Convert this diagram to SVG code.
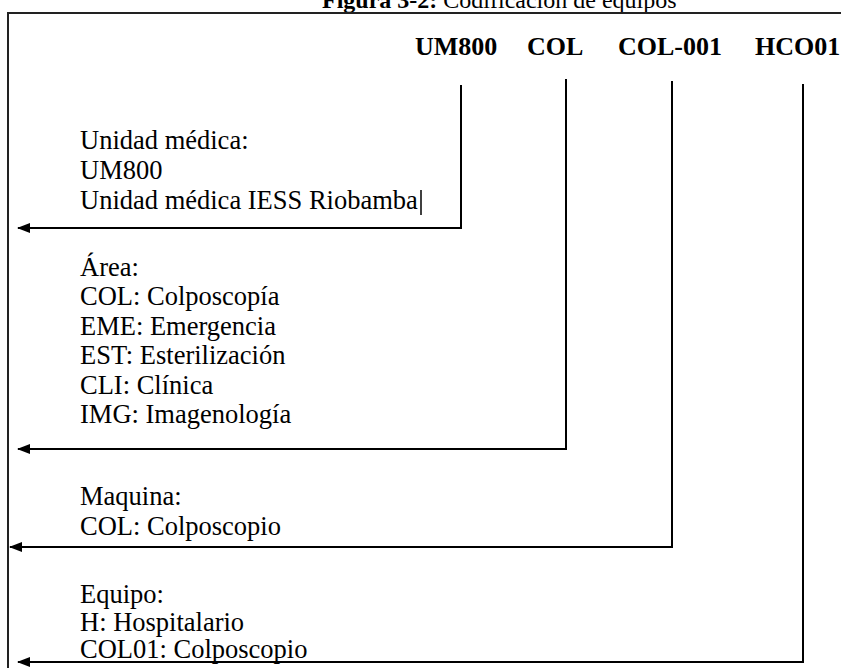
<svg xmlns="http://www.w3.org/2000/svg" width="841" height="668" viewBox="0 0 841 668">
<defs>
<style>
text{font-family:"Liberation Serif","Times New Roman",serif;fill:#000}
.t{font-size:26.5px}
.h{font-size:26px;font-weight:bold}
.c{fill:none;stroke:#000;stroke-width:2}
</style>
<marker id="ah" viewBox="0 0 13 10" refX="12" refY="5" markerWidth="13" markerHeight="10" markerUnits="userSpaceOnUse" orient="auto">
<path d="M0,0 L13,5 L0,10 Z" fill="#000"/>
</marker>
</defs>
<rect width="841" height="668" fill="#fff"/>
<text x="322" y="8" font-size="24"><tspan font-weight="bold">Figura 3-2:</tspan> Codificación de equipos</text>
<path d="M8,668 V13 H841" fill="none" stroke="#222" stroke-width="2"/>
<g id="header">
<text class="h" x="415" y="55">UM800</text>
<text class="h" x="527" y="55">COL</text>
<text class="h" x="618" y="55">COL-001</text>
<text class="h" x="755" y="55">HCO01</text>
</g>
<g id="n-unidad">
<text class="t" x="80" y="149">Unidad médica:</text>
<text class="t" x="80" y="179">UM800</text>
<text class="t" x="80" y="209">Unidad médica IESS Riobamba</text>
<line x1="421" y1="190" x2="421" y2="215" stroke="#000" stroke-width="1.5"/>
</g>
<g id="n-area">
<text class="t" x="80" y="276">Área:</text>
<text class="t" x="80" y="305">COL: Colposcopía</text>
<text class="t" x="80" y="335">EME: Emergencia</text>
<text class="t" x="80" y="364">EST: Esterilización</text>
<text class="t" x="80" y="394">CLI: Clínica</text>
<text class="t" x="80" y="423">IMG: Imagenología</text>
</g>
<g id="n-maquina">
<text class="t" x="80" y="505">Maquina:</text>
<text class="t" x="80" y="535">COL: Colposcopio</text>
</g>
<g id="n-equipo">
<text class="t" x="80" y="603">Equipo:</text>
<text class="t" x="80" y="631">H: Hospitalario</text>
<text class="t" x="80" y="658">COL01: Colposcopio</text>
</g>
<g id="connectors">
<path class="c" d="M461,85 V228 H18" marker-end="url(#ah)"/>
<path class="c" d="M566,79 V449 H18" marker-end="url(#ah)"/>
<path class="c" d="M672,81 V547 H10" marker-end="url(#ah)"/>
<path class="c" d="M803,84 V662 H18" marker-end="url(#ah)"/>
</g>
</svg>
